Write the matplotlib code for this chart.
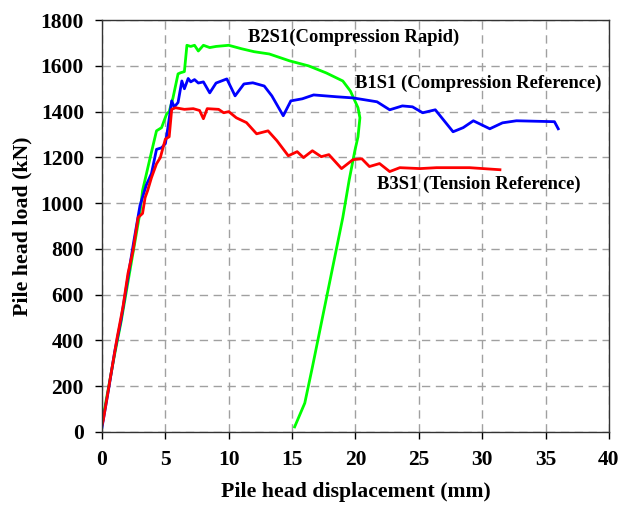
import matplotlib
matplotlib.use("Agg")
import matplotlib.pyplot as plt

# B2S1 (Compression Rapid) - green
b2s1_disp = [0.0, 0.5, 1.0, 1.5, 2.0, 2.5, 3.0, 3.2, 3.8, 4.3, 4.7, 5.1, 5.3, 5.6, 6.0, 6.2,
             6.5, 6.7, 7.0, 7.3, 7.6, 8.0, 8.5, 9.0, 10.0, 11.0, 12.0, 13.2, 14.8, 16.3,
             17.7, 19.0, 19.6, 20.2, 20.35, 20.2, 19.95, 19.5, 19.0, 18.2, 17.4, 16.6,
             16.0, 15.2]
b2s1_load = [40, 190, 340, 480, 640, 800, 960, 1055, 1199, 1316, 1330, 1390, 1400, 1460, 1565, 1570,
             1575, 1690, 1685, 1690, 1665, 1690, 1680, 1685, 1690, 1675, 1662, 1652, 1622, 1600,
             1569, 1534, 1490, 1417, 1373, 1290, 1229, 1100, 937, 719, 501, 283,
             126, 22]

# B1S1 (Compression Reference) - blue
b1s1_disp = [0.0, 0.5, 1.0, 1.5, 2.0, 2.5, 3.0, 3.5, 3.9, 4.3, 4.7, 5.0, 5.2, 5.5, 5.7, 6.0,
             6.3, 6.5, 6.8, 7.0, 7.3, 7.6, 8.0, 8.5, 9.0, 9.85, 10.5, 11.2, 11.9, 12.8,
             13.4, 14.3, 14.9, 15.8, 16.7, 18.5, 19.8, 21.7, 22.7, 23.7, 24.5, 25.3,
             26.3, 27.7, 28.5, 29.3, 30.6, 31.6, 32.7, 35.7, 36.0]
b1s1_load = [20, 180, 350, 490, 660, 830, 990, 1080, 1129, 1235, 1242, 1260, 1330, 1447, 1420, 1440,
             1534, 1500, 1545, 1530, 1540, 1525, 1530, 1482, 1525, 1543, 1469, 1521, 1526, 1512,
             1469, 1382, 1447, 1456, 1473, 1465, 1460, 1443, 1408, 1425, 1421, 1395,
             1408, 1312, 1330, 1360, 1325, 1351, 1360, 1356, 1325]

# B3S1 (Tension Reference) - red
b3s1_disp = [0.0, 0.1, 0.63, 1.2, 1.65, 2.05, 2.45, 2.85, 3.2, 3.4, 3.6, 3.9, 4.3, 4.6, 5.0,
             5.3, 5.5, 5.8, 6.5, 7.2, 7.7, 8.0, 8.3, 9.2, 9.6, 10.0, 10.6, 11.4, 12.2,
             13.1, 13.8, 14.7, 15.4, 15.9, 16.6, 17.3, 17.9, 18.9, 19.8, 20.5, 21.1,
             21.9, 22.7, 23.5, 25.1, 26.4, 29.0, 31.4]
b3s1_load = [30, 52, 227, 414, 545, 693, 793, 937, 955, 1024, 1055, 1111, 1172, 1199, 1280,
             1290, 1410, 1417, 1410, 1413, 1405, 1369, 1413, 1410, 1395, 1400, 1373, 1352, 1303,
             1316, 1273, 1207, 1225, 1199, 1229, 1203, 1212, 1151, 1190, 1194, 1160,
             1173, 1138, 1155, 1151, 1155, 1155, 1146]

plt.rcParams["font.family"] = "Liberation Serif"
plt.rcParams["font.weight"] = "bold"

fig = plt.figure(figsize=(6.22, 5.16), dpi=100)
ax = fig.add_axes([0.164, 0.163, 0.815, 0.798])

ax.plot(b2s1_disp, b2s1_load, color="#00ff00", linewidth=2)
ax.plot(b1s1_disp, b1s1_load, color="#0000ff", linewidth=2)
ax.plot(b3s1_disp, b3s1_load, color="#ff0000", linewidth=2)

ax.text(11.5, 1726, "B2S1(Compression Rapid)", fontsize=13.4, fontweight="bold", va="center")
ax.text(20.0, 1525, "B1S1 (Compression Reference)", fontsize=13.4, fontweight="bold", va="center")
ax.text(21.7, 1083, "B3S1 (Tension Reference)", fontsize=13.4, fontweight="bold", va="center")

ax.set_xlim(0, 40)
ax.set_ylim(0, 1800)
ax.set_xticks(range(0, 41, 5))
ax.set_yticks(range(0, 1801, 200))
ax.grid(True, color="#a0a0a0", linestyle=(0, (6, 4)), linewidth=1)
ax.tick_params(direction="out", length=5, width=1, labelsize=15.5, pad=8)
for lbl in ax.get_xticklabels() + ax.get_yticklabels():
    lbl.set_fontweight("bold")
for sp in ax.spines.values():
    sp.set_linewidth(1)
    sp.set_color("#333333")

ax.set_xlabel("Pile head displacement (mm)", fontsize=15.7, fontweight="bold", labelpad=9)
ax.set_ylabel("Pile head load (kN)", fontsize=15.7, fontweight="bold", labelpad=6)

fig.savefig("out.png", dpi=100)
